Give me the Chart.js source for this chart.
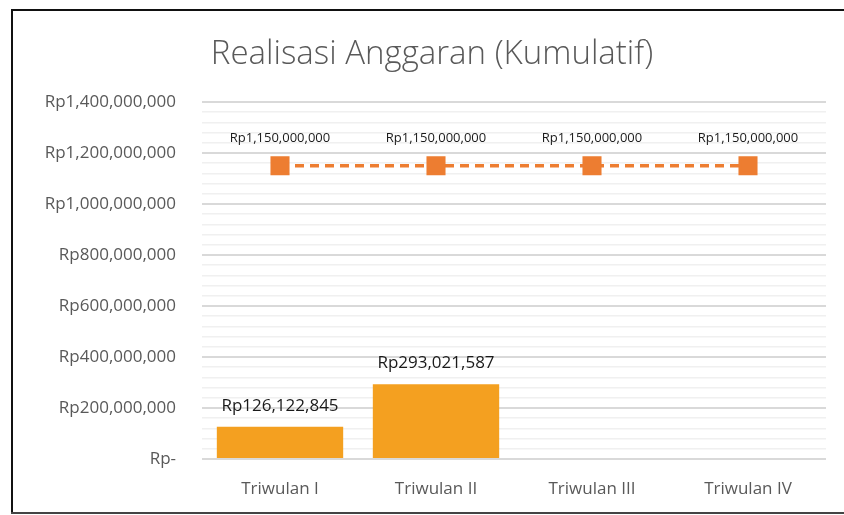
<!DOCTYPE html>
<html>
<head>
<meta charset="utf-8">
<title>Realisasi Anggaran (Kumulatif)</title>
<script src="https://cdn.jsdelivr.net/npm/chart.js@4"></script>
<style>
  html, body { margin: 0; padding: 0; background: #fff; overflow: hidden; }
  canvas { display: block; }
</style>
</head>
<body>
<canvas id="chart" width="844" height="515"></canvas>
<script>
// data
const chartTitle = "Realisasi Anggaran (Kumulatif)";
const quarters = ["Triwulan I", "Triwulan II", "Triwulan III", "Triwulan IV"];
const realisasi = [126122845, 293021587, null, null];
const anggaran = [1150000000, 1150000000, 1150000000, 1150000000];
const yMax = 1400000000;
const majorStep = 200000000;
const minorStep = 40000000;

const FONT = "'Open Sans', 'Liberation Sans', sans-serif";

function rupiah(v) {
  if (v === 0) return "Rp-";
  return "Rp" + v.toLocaleString("en-US");
}

// outer frame (left, top, bottom only - the right side is cut off in the original)
const framePlugin = {
  id: "framePlugin",
  afterDraw(chart) {
    const ctx = chart.ctx;
    ctx.save();
    ctx.strokeStyle = "#111";
    ctx.lineWidth = 2;
    ctx.beginPath();
    ctx.moveTo(chart.width, 10);
    ctx.lineTo(12, 10);
    ctx.lineTo(12, 512);
    ctx.stroke();
    ctx.strokeStyle = "#444";
    ctx.beginPath();
    ctx.moveTo(11, 513);
    ctx.lineTo(chart.width, 513);
    ctx.stroke();
    ctx.restore();
  }
};

// title sits a bit right of canvas centre, like the original
const titlePlugin = {
  id: "titlePlugin",
  afterDraw(chart) {
    const ctx = chart.ctx;
    ctx.save();
    ctx.textAlign = "center";
    ctx.textBaseline = "middle";
    ctx.fillStyle = "#595959";
    ctx.font = "300 33px " + FONT;
    ctx.fillText(chartTitle, chart.width / 2 + 10, 55);
    ctx.restore();
  }
};

// value labels over bars and line points
const valueLabels = {
  id: "valueLabels",
  afterDatasetsDraw(chart) {
    const ctx = chart.ctx;
    ctx.save();
    ctx.textAlign = "center";
    ctx.textBaseline = "middle";
    ctx.fillStyle = "#1a1a1a";
    chart.getDatasetMeta(0).data.forEach((bar, i) => {
      if (realisasi[i] == null) return;
      ctx.font = "17px " + FONT;
      ctx.fillText(rupiah(realisasi[i]), bar.x, bar.y - 21);
    });
    chart.getDatasetMeta(1).data.forEach((pt, i) => {
      ctx.font = "13px " + FONT;
      ctx.fillText(rupiah(anggaran[i]), pt.x, pt.y - 27);
    });
    ctx.restore();
  }
};

new Chart(document.getElementById("chart").getContext("2d"), {
  type: "bar",
  data: {
    labels: quarters,
    datasets: [
      {
        type: "bar",
        label: "Realisasi",
        data: realisasi,
        backgroundColor: "#F4A020",
        barPercentage: 1,
        categoryPercentage: 0.81,
        order: 2
      },
      {
        type: "line",
        label: "Anggaran",
        data: anggaran,
        borderColor: "#ED7D31",
        backgroundColor: "#ED7D31",
        borderWidth: 3.5,
        borderDash: [9, 6],
        pointStyle: "rect",
        pointRadius: 11,
        pointHoverRadius: 11,
        fill: false,
        order: 1
      }
    ]
  },
  options: {
    responsive: false,
    animation: false,
    layout: { padding: { left: 0, right: 18, top: 102, bottom: 0 } },
    plugins: {
      legend: { display: false },
      tooltip: { enabled: false },
      title: { display: false }
    },
    scales: {
      x: {
        grid: { display: false },
        border: { display: false },
        ticks: {
          color: "#595959",
          font: { family: FONT, size: 17 },
          padding: 12
        },
        afterFit(scale) { scale.height = 56; }
      },
      y: {
        min: 0,
        max: yMax,
        border: { display: false },
        grid: {
          drawTicks: false,
          color: c => (c.tick.value % majorStep === 0 ? "#D9D9D9" : "#F0F0F0"),
          lineWidth: c => (c.tick.value % majorStep === 0 ? 2 : 1.5)
        },
        ticks: {
          stepSize: minorStep,
          maxTicksLimit: 100,
          autoSkip: false,
          color: "#595959",
          font: { family: FONT, size: 17 },
          padding: 26,
          callback: v => (v % majorStep === 0 ? rupiah(v) : "")
        },
        afterFit(scale) { scale.width = 202; }
      }
    }
  },
  plugins: [valueLabels, titlePlugin, framePlugin]
});
</script>
</body>
</html>
